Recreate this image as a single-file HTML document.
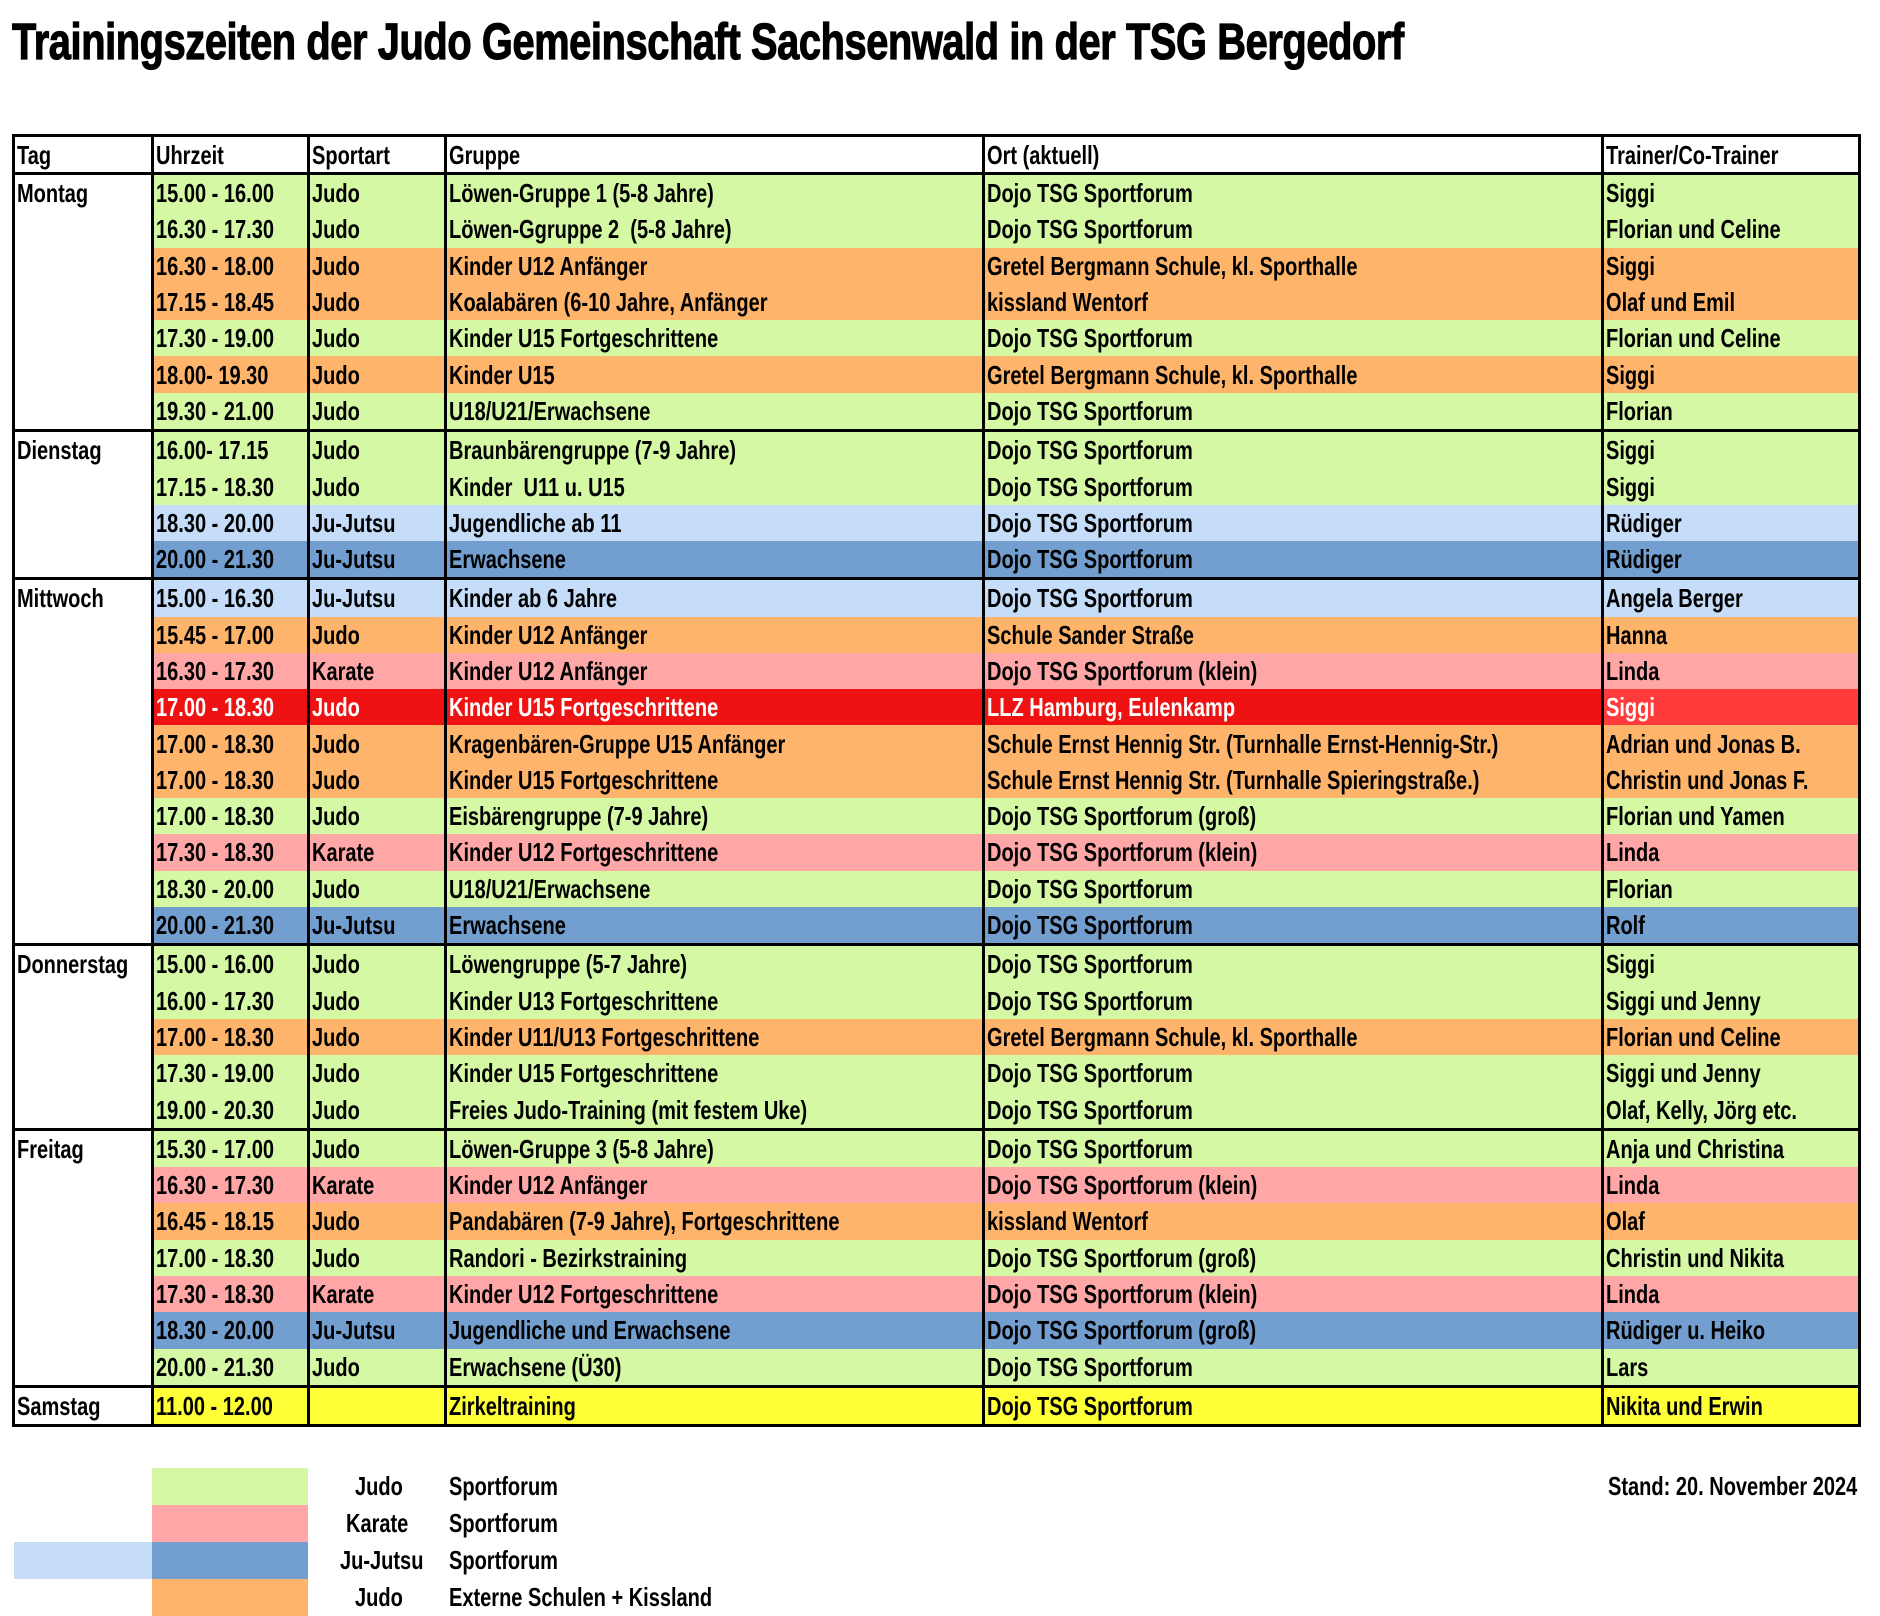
<!DOCTYPE html>
<html><head><meta charset="utf-8"><style>
body{margin:0;width:1880px;height:1612px;background:#fff;position:relative;overflow:hidden;font-family:"Liberation Sans",sans-serif;}
.t{position:absolute;left:12px;top:12px;font-size:51px;font-weight:bold;white-space:nowrap;transform:scaleX(0.78);transform-origin:left top;letter-spacing:-0.5px;-webkit-text-stroke:1.2px #000;}
table{position:absolute;left:12px;top:134px;width:1846px;border-collapse:collapse;table-layout:fixed;border:3px solid #000;}
td{height:36.3px;line-height:30px;padding:0 0 0 2px;border-left:3px solid #000;white-space:nowrap;overflow:hidden;font-size:26px;font-weight:bold;vertical-align:middle;}
td span{display:inline-block;transform:scaleX(0.77);transform-origin:left center;}
tr.h td{height:35px;background:#fff;border-bottom:3px solid #000;}
tr.g td{border-top:3px solid #000;}
td.d{background:#fff !important;vertical-align:top;padding-top:3px;}
.G td{background:#d4f8a4}.O td{background:#ffb46b}.L td{background:#c5ddf8}.B td{background:#729fcf}.P td{background:#ffa6a6}.Y td{background:#ffff38}
.R td{background:#ee1212;color:#fff}.R td.tr{background:#ff3b3b}
.lg{position:absolute;height:37px}
.lt{position:absolute;font-size:26px;font-weight:bold;white-space:nowrap;transform:scaleX(0.77);transform-origin:left center;line-height:37px}
</style></head><body>
<div class="t">Trainingszeiten der Judo Gemeinschaft Sachsenwald in der TSG Bergedorf</div>
<table>
<colgroup><col style="width:139px"><col style="width:156px"><col style="width:137px"><col style="width:538px"><col style="width:619px"><col style="width:257px"></colgroup>
<tr class="h"><td><span>Tag</span></td><td><span>Uhrzeit</span></td><td><span>Sportart</span></td><td><span>Gruppe</span></td><td><span>Ort (aktuell)</span></td><td><span>Trainer/Co-Trainer</span></td></tr>
<tr class="G g"><td class="d" rowspan="7"><span>Montag</span></td><td><span>15.00 - 16.00</span></td><td><span>Judo</span></td><td><span>Löwen-Gruppe 1 (5-8 Jahre)</span></td><td><span>Dojo TSG Sportforum</span></td><td class="tr"><span>Siggi</span></td></tr>
<tr class="G"><td><span>16.30 - 17.30</span></td><td><span>Judo</span></td><td><span>Löwen-Ggruppe 2&nbsp; (5-8 Jahre)</span></td><td><span>Dojo TSG Sportforum</span></td><td><span>Florian und Celine</span></td></tr>
<tr class="O"><td><span>16.30 - 18.00</span></td><td><span>Judo</span></td><td><span>Kinder U12 Anfänger</span></td><td><span>Gretel Bergmann Schule, kl. Sporthalle</span></td><td><span>Siggi</span></td></tr>
<tr class="O"><td><span>17.15 - 18.45</span></td><td><span>Judo</span></td><td><span>Koalabären (6-10 Jahre, Anfänger</span></td><td><span>kissland Wentorf</span></td><td><span>Olaf und Emil</span></td></tr>
<tr class="G"><td><span>17.30 - 19.00</span></td><td><span>Judo</span></td><td><span>Kinder U15 Fortgeschrittene</span></td><td><span>Dojo TSG Sportforum</span></td><td><span>Florian und Celine</span></td></tr>
<tr class="O"><td><span>18.00- 19.30</span></td><td><span>Judo</span></td><td><span>Kinder U15</span></td><td><span>Gretel Bergmann Schule, kl. Sporthalle</span></td><td><span>Siggi</span></td></tr>
<tr class="G"><td><span>19.30 - 21.00</span></td><td><span>Judo</span></td><td><span>U18/U21/Erwachsene</span></td><td><span>Dojo TSG Sportforum</span></td><td><span>Florian</span></td></tr>
<tr class="G g"><td class="d" rowspan="4"><span>Dienstag</span></td><td><span>16.00- 17.15</span></td><td><span>Judo</span></td><td><span>Braunbärengruppe (7-9 Jahre)</span></td><td><span>Dojo TSG Sportforum</span></td><td><span>Siggi</span></td></tr>
<tr class="G"><td><span>17.15 - 18.30</span></td><td><span>Judo</span></td><td><span>Kinder&nbsp; U11 u. U15</span></td><td><span>Dojo TSG Sportforum</span></td><td><span>Siggi</span></td></tr>
<tr class="L"><td><span>18.30 - 20.00</span></td><td><span>Ju-Jutsu</span></td><td><span>Jugendliche ab 11</span></td><td><span>Dojo TSG Sportforum</span></td><td><span>Rüdiger</span></td></tr>
<tr class="B"><td><span>20.00 - 21.30</span></td><td><span>Ju-Jutsu</span></td><td><span>Erwachsene</span></td><td><span>Dojo TSG Sportforum</span></td><td><span>Rüdiger</span></td></tr>
<tr class="L g"><td class="d" rowspan="10"><span>Mittwoch</span></td><td><span>15.00 - 16.30</span></td><td><span>Ju-Jutsu</span></td><td><span>Kinder ab 6 Jahre</span></td><td><span>Dojo TSG Sportforum</span></td><td><span>Angela Berger</span></td></tr>
<tr class="O"><td><span>15.45 - 17.00</span></td><td><span>Judo</span></td><td><span>Kinder U12 Anfänger</span></td><td><span>Schule Sander Straße</span></td><td><span>Hanna</span></td></tr>
<tr class="P"><td><span>16.30 - 17.30</span></td><td><span>Karate</span></td><td><span>Kinder U12 Anfänger</span></td><td><span>Dojo TSG Sportforum (klein)</span></td><td><span>Linda</span></td></tr>
<tr class="R"><td><span>17.00 - 18.30</span></td><td><span>Judo</span></td><td><span>Kinder U15 Fortgeschrittene</span></td><td><span>LLZ Hamburg, Eulenkamp</span></td><td class="tr"><span>Siggi</span></td></tr>
<tr class="O"><td><span>17.00 - 18.30</span></td><td><span>Judo</span></td><td><span>Kragenbären-Gruppe U15 Anfänger</span></td><td><span>Schule Ernst Hennig Str. (Turnhalle Ernst-Hennig-Str.)</span></td><td><span>Adrian und Jonas B.</span></td></tr>
<tr class="O"><td><span>17.00 - 18.30</span></td><td><span>Judo</span></td><td><span>Kinder U15 Fortgeschrittene</span></td><td><span>Schule Ernst Hennig Str. (Turnhalle Spieringstraße.)</span></td><td><span>Christin und Jonas F.</span></td></tr>
<tr class="G"><td><span>17.00 - 18.30</span></td><td><span>Judo</span></td><td><span>Eisbärengruppe (7-9 Jahre)</span></td><td><span>Dojo TSG Sportforum (groß)</span></td><td><span>Florian und Yamen</span></td></tr>
<tr class="P"><td><span>17.30 - 18.30</span></td><td><span>Karate</span></td><td><span>Kinder U12 Fortgeschrittene</span></td><td><span>Dojo TSG Sportforum (klein)</span></td><td><span>Linda</span></td></tr>
<tr class="G"><td><span>18.30 - 20.00</span></td><td><span>Judo</span></td><td><span>U18/U21/Erwachsene</span></td><td><span>Dojo TSG Sportforum</span></td><td><span>Florian</span></td></tr>
<tr class="B"><td><span>20.00 - 21.30</span></td><td><span>Ju-Jutsu</span></td><td><span>Erwachsene</span></td><td><span>Dojo TSG Sportforum</span></td><td><span>Rolf</span></td></tr>
<tr class="G g"><td class="d" rowspan="5"><span>Donnerstag</span></td><td><span>15.00 - 16.00</span></td><td><span>Judo</span></td><td><span>Löwengruppe (5-7 Jahre)</span></td><td><span>Dojo TSG Sportforum</span></td><td><span>Siggi</span></td></tr>
<tr class="G"><td><span>16.00 - 17.30</span></td><td><span>Judo</span></td><td><span>Kinder U13 Fortgeschrittene</span></td><td><span>Dojo TSG Sportforum</span></td><td><span>Siggi und Jenny</span></td></tr>
<tr class="O"><td><span>17.00 - 18.30</span></td><td><span>Judo</span></td><td><span>Kinder U11/U13 Fortgeschrittene</span></td><td><span>Gretel Bergmann Schule, kl. Sporthalle</span></td><td><span>Florian und Celine</span></td></tr>
<tr class="G"><td><span>17.30 - 19.00</span></td><td><span>Judo</span></td><td><span>Kinder U15 Fortgeschrittene</span></td><td><span>Dojo TSG Sportforum</span></td><td><span>Siggi und Jenny</span></td></tr>
<tr class="G"><td><span>19.00 - 20.30</span></td><td><span>Judo</span></td><td><span>Freies Judo-Training (mit festem Uke)</span></td><td><span>Dojo TSG Sportforum</span></td><td><span>Olaf, Kelly, Jörg etc.</span></td></tr>
<tr class="G g"><td class="d" rowspan="7"><span>Freitag</span></td><td><span>15.30 - 17.00</span></td><td><span>Judo</span></td><td><span>Löwen-Gruppe 3 (5-8 Jahre)</span></td><td><span>Dojo TSG Sportforum</span></td><td><span>Anja und Christina</span></td></tr>
<tr class="P"><td><span>16.30 - 17.30</span></td><td><span>Karate</span></td><td><span>Kinder U12 Anfänger</span></td><td><span>Dojo TSG Sportforum (klein)</span></td><td><span>Linda</span></td></tr>
<tr class="O"><td><span>16.45 - 18.15</span></td><td><span>Judo</span></td><td><span>Pandabären (7-9 Jahre), Fortgeschrittene</span></td><td><span>kissland Wentorf</span></td><td><span>Olaf</span></td></tr>
<tr class="G"><td><span>17.00 - 18.30</span></td><td><span>Judo</span></td><td><span>Randori - Bezirkstraining</span></td><td><span>Dojo TSG Sportforum (groß)</span></td><td><span>Christin und Nikita</span></td></tr>
<tr class="P"><td><span>17.30 - 18.30</span></td><td><span>Karate</span></td><td><span>Kinder U12 Fortgeschrittene</span></td><td><span>Dojo TSG Sportforum (klein)</span></td><td><span>Linda</span></td></tr>
<tr class="B"><td><span>18.30 - 20.00</span></td><td><span>Ju-Jutsu</span></td><td><span>Jugendliche und Erwachsene</span></td><td><span>Dojo TSG Sportforum (groß)</span></td><td><span>Rüdiger u. Heiko</span></td></tr>
<tr class="G"><td><span>20.00 - 21.30</span></td><td><span>Judo</span></td><td><span>Erwachsene (Ü30)</span></td><td><span>Dojo TSG Sportforum</span></td><td><span>Lars</span></td></tr>
<tr class="Y g"><td class="d" style="vertical-align:middle;padding-top:0"><span>Samstag</span></td><td><span>11.00 - 12.00</span></td><td></td><td><span>Zirkeltraining</span></td><td><span>Dojo TSG Sportforum</span></td><td><span>Nikita und Erwin</span></td></tr>
</table>
<div class="lg" style="left:152px;top:1468px;width:156px;background:#d4f8a4"></div>
<div class="lg" style="left:152px;top:1505px;width:156px;background:#ffa6a6"></div>
<div class="lg" style="left:14px;top:1542px;width:138px;background:#c5ddf8"></div>
<div class="lg" style="left:152px;top:1542px;width:156px;background:#729fcf"></div>
<div class="lg" style="left:152px;top:1579px;width:156px;background:#ffb46b"></div>
<div class="lt" style="left:355px;top:1468px">Judo</div><div class="lt" style="left:449px;top:1468px">Sportforum</div>
<div class="lt" style="left:346px;top:1505px">Karate</div><div class="lt" style="left:449px;top:1505px">Sportforum</div>
<div class="lt" style="left:340px;top:1542px">Ju-Jutsu</div><div class="lt" style="left:449px;top:1542px">Sportforum</div>
<div class="lt" style="left:355px;top:1579px">Judo</div><div class="lt" style="left:449px;top:1579px">Externe Schulen + Kissland</div>
<div class="lt" style="left:1608px;top:1468px">Stand: 20. November 2024</div>
</body></html>
